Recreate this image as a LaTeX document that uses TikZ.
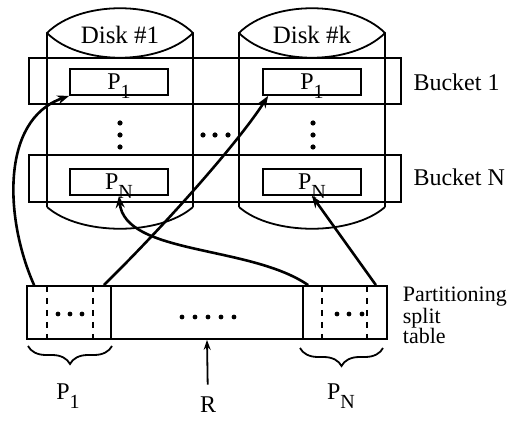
\documentclass[tikz,border=0pt]{standalone}
\usepackage{fontspec}
\setmainfont{Liberation Serif}
\usetikzlibrary{arrows.meta,decorations.pathreplacing}

\newcommand{\Psub}[1]{P\smash{\raisebox{-4.5pt}{\fontsize{10}{10}\selectfont #1}}}

\begin{document}
\begin{tikzpicture}
	[x=0.5pt,y=-0.5pt,line width=0.9pt,
	every node/.style={font=\fontsize{12}{14}\selectfont},
	pbox/.style={draw,minimum width=49pt,minimum height=13pt,inner sep=0pt},
	cell/.style={draw,minimum height=26.5pt,inner sep=0pt},
	link/.style={line width=1.3pt,-{Stealth[length=6pt,width=4.5pt]}},
	brc/.style={decorate,decoration={brace,mirror,amplitude=9pt}}]
	\useasboundingbox (0,0) rectangle (513,421);

	\foreach \x/\k in {47/1,239/k}{
		\draw (\x,207) -- (\x,33) .. controls (\x+33,0) and (\x+113,0) .. (\x+146,33) -- (\x+146,207);
		\draw (\x,33) .. controls (\x+33,66) and (\x+113,66) .. (\x+146,33);
		\draw (\x,207) .. controls (\x+33,236) and (\x+113,236) .. (\x+146,207);
		\node[font=\fontsize{12.5}{14}\selectfont] (disk\k) at (\x+73,35) {Disk \#\k};
	}
	\draw (29,58) rectangle (401,104);
	\draw (29,155) rectangle (401,202);

	\node[pbox] (p11) at (119,82) {\Psub{1}};
	\node[pbox] (p1k) at (312,82) {\Psub{1}};
	\node[pbox] (pn1) at (119,182) {\Psub{N}};
	\node[pbox] (pnk) at (312,182) {\Psub{N}};
	\node[anchor=west] (b1) at (406,82) {Bucket 1};
	\node[anchor=west] (bn) at (406,177) {Bucket N};

	\foreach \y in {123,135,147}{
		\fill (120,\y) circle[radius=1.3pt];
		\fill (313,\y) circle[radius=1.3pt];
	}
	\foreach \x in {203,215,228}
		\fill (\x,135) circle[radius=1.3pt];

	\node[cell,minimum width=42pt] (c1) at (69,312.5) {};
	\node[cell,minimum width=96pt] (cm) at (207,312.5) {};
	\node[cell,minimum width=42pt] (cn) at (345,312.5) {};
	\foreach \x in {47,93,322,367}
		\draw[dashed] (\x,286) -- (\x,339);
	\foreach \x in {58,70,82,337,349,362}
		\fill (\x,314) circle[radius=1.2pt];
	\foreach \x in {182,195,208,221,234}
		\fill (\x,317) circle[radius=1.2pt];
	\node[anchor=west,align=left,inner sep=1pt,font=\fontsize{11}{10}\selectfont] (pst) at (400,315) {Partitioning\\split\\table};

	\draw[brc] (28,346) -- (112,346);
	\draw[brc] (300,348) -- (383,348);
	\node (l1) at (68,392) {\Psub{1}};
	\node (ln) at (341,392) {\Psub{N}};
	\node (r) at (208,405) {R};
	\draw[-{Stealth[length=5pt,width=3.5pt]},shorten <=2.5pt] (r) -- (cm.south);

	\draw[link] ([xshift=4pt]c1.north west) .. controls (5,220) and (0,120) .. (p11.south west);
	\draw[link] ([xshift=-4pt]c1.north east) .. controls (170,220) and (240,140) .. ([xshift=3pt]p1k.south west);
	\draw[link] ([xshift=3pt]cn.north west) .. controls (250,245) and (125,255) .. (pn1.south);
	\draw[link] ([xshift=-6pt]cn.north east) -- (pnk.south);
\end{tikzpicture}
\end{document}
